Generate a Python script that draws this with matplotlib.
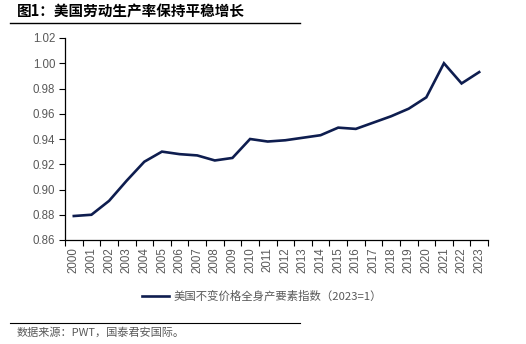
#!/usr/bin/env python3
"""
US total factor productivity index, 2000-2023 (constant prices, 2023=1).
"""

import matplotlib.pyplot as plt
from matplotlib.lines import Line2D
import numpy as np

years = [str(y) for y in range(2000, 2024)]
tfp_index = [0.879, 0.880, 0.891, 0.907, 0.922, 0.930, 0.928, 0.927, 0.923, 0.925,
             0.940, 0.938, 0.939, 0.941, 0.943, 0.949, 0.948, 0.953, 0.958, 0.964,
             0.973, 1.000, 0.984, 0.993]
y_ticks = [0.86, 0.88, 0.90, 0.92, 0.94, 0.96, 0.98, 1.00, 1.02]

title = "图1：美国劳动生产率保持平稳增长"
series_name = "美国不变价格全身产要素指数（2023=1）"
source = "数据来源：PWT，国泰君安国际。"

CJK = ["Noto Sans CJK SC", "DejaVu Sans"]
NUM = ["Liberation Sans", "Noto Sans CJK SC"]
GREY = "#595959"
NAVY = "#0e1d4f"

W, H = 526, 344
fig = plt.figure(figsize=(W / 100, H / 100), dpi=100)
ax = fig.add_axes([65 / W, 1 - 240 / H, (488 - 65) / W, (240 - 38) / H])

x = np.arange(len(years))
ax.plot(x, tfp_index, color=NAVY, lw=1.9, solid_joinstyle="miter")

ax.set_xlim(-0.5, len(years) - 0.5)
ax.set_ylim(y_ticks[0], y_ticks[-1])
ax.set_yticks(y_ticks)
ax.set_yticklabels([f"{v:.2f}" for v in y_ticks], family=NUM, fontsize=8.3, color=GREY)

# category ticks sit between the years, labels at the centres
ax.set_xticks(np.arange(-0.5, len(years)), labels=[])
ax.set_xticks(x, minor=True)
ax.set_xticklabels(years, minor=True, rotation=90, family=NUM, fontsize=8.3, color=GREY)
ax.tick_params(axis="x", which="major", length=4, width=0.8, direction="out")
ax.tick_params(axis="x", which="minor", length=0, pad=5)
ax.tick_params(axis="y", length=4, width=0.8, direction="out", pad=3)

for side in ("top", "right"):
    ax.spines[side].set_visible(False)
for side in ("left", "bottom"):
    ax.spines[side].set_linewidth(0.9)

handle = Line2D([], [], color=NAVY, lw=1.9)
fig.legend([handle], [series_name], loc="center", bbox_to_anchor=(262 / W, 1 - 296 / H),
           frameon=False, handlelength=2.4, handletextpad=0.4,
           prop={"family": CJK, "size": 8.2}, labelcolor=GREY)

fig.text(17 / W, 1 - 12 / H, title, family=CJK, fontsize=10.5, fontweight="bold",
         va="center", ha="left")
fig.add_artist(Line2D([10 / W, 300 / W], [1 - 22.5 / H] * 2, color="black", lw=1.0))

fig.add_artist(Line2D([10 / W, 300 / W], [1 - 323 / H] * 2, color="black", lw=0.8))
fig.text(17 / W, 1 - 332 / H, source, family=CJK, fontsize=8, style="italic",
         color=GREY, va="center", ha="left")

fig.savefig("out.png", dpi=100)
